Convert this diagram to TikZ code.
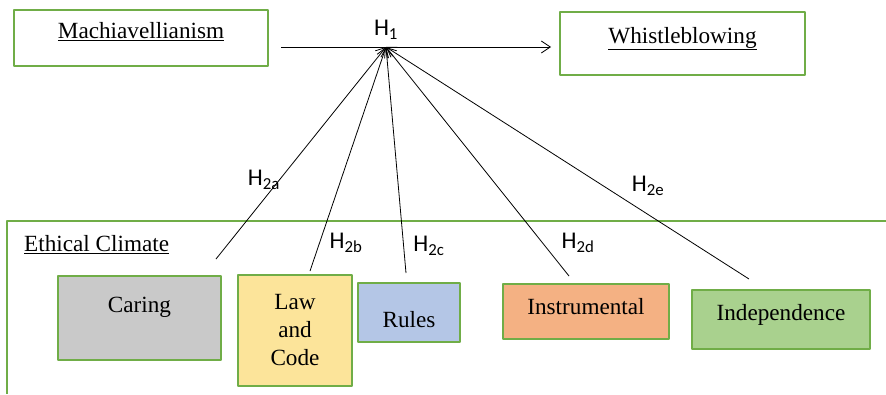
\documentclass[tikz,border=0pt]{standalone}
\usepackage{fontspec}
\setmainfont{Liberation Serif}
\newfontfamily\hypfont{Carlito}
\usetikzlibrary{arrows.meta,positioning,calc}
\definecolor{frameg}{HTML}{70AD47}
\definecolor{caringc}{HTML}{C9C9C9}
\definecolor{lawc}{HTML}{FCE49A}
\definecolor{rulesc}{HTML}{B4C6E6}
\definecolor{instrc}{HTML}{F4B183}
\definecolor{indepc}{HTML}{A9D18E}
\tikzset{
  varbox/.style={draw=frameg, line width=2pt, inner sep=0pt,
    font=\fontsize{23.2}{28}\selectfont},
  hyp/.style={-{Straight Barb[length=9pt,width=12pt]}, line width=0.8pt},
  hyplab/.style={font=\hypfont\fontsize{24}{26}\selectfont, inner sep=0pt},
}

\begin{document}
\begin{tikzpicture}[x=1pt, y=-1pt, line join=round]
\useasboundingbox (0,0) rectangle (886,394);
% main variables
\node[varbox, minimum width=254pt, minimum height=56pt, text depth=15pt] (mach) at (141,38) {\underline{Machiavellianism}};
\node[varbox, minimum width=245pt, minimum height=63pt, text depth=17pt] (whistle) at (682.5,43.5) {\underline{Whistleblowing}};
\coordinate (h1s) at (281,47);
\coordinate (h1e) at (551,47);
\coordinate (hub) at (386,47);
\draw[hyp] (h1s) -- (h1e);
\node[hyplab] (h1) at (386,30) {H\textsubscript{1}};
% ethical climate frame
\draw[frameg, line width=2pt] (886,221) -| (7,394);
\node[anchor=west, inner sep=0pt, font=\fontsize{23.2}{27}\selectfont] (ethic) at (24,245) {\underline{Ethical Climate}};
% climate types
\node[varbox, fill=caringc, minimum width=163pt, minimum height=84pt, text depth=27pt] (caring) at (139.5,318) {Caring};
\node[varbox, fill=lawc, minimum width=114pt, minimum height=111pt, align=center] (law) at (295,330.5) {Law\\and\\Code};
\node[varbox, fill=rulesc, minimum width=102pt, minimum height=59pt, text height=30pt] (rules) at (409,312.5) {Rules};
\node[varbox, fill=instrc, minimum width=166pt, minimum height=55pt, text depth=11pt] (instr) at (586,311.5) {Instrumental};
\node[varbox, fill=indepc, minimum width=178pt, minimum height=59pt, text depth=14pt] (indep) at (781,319.5) {Independence};
% hypothesis paths
\coordinate (ca) at (216,259);
\coordinate (la) at (310,271);
\coordinate (ru) at (406,273);
\coordinate (in) at (569,276);
\coordinate (ind) at (749,279);
\foreach \c in {ca,la,ru,in,ind}
  \draw[hyp] (\c) -- (hub);
\node[hyplab] (h2a) at (264,180) {H\textsubscript{2a}};
\node[hyplab] (h2b) at (346,243) {H\textsubscript{2b}};
\node[hyplab] (h2c) at (429,246) {H\textsubscript{2c}};
\node[hyplab] (h2d) at (578,243) {H\textsubscript{2d}};
\node[hyplab] (h2e) at (648,186) {H\textsubscript{2e}};
\end{tikzpicture}
\end{document}
